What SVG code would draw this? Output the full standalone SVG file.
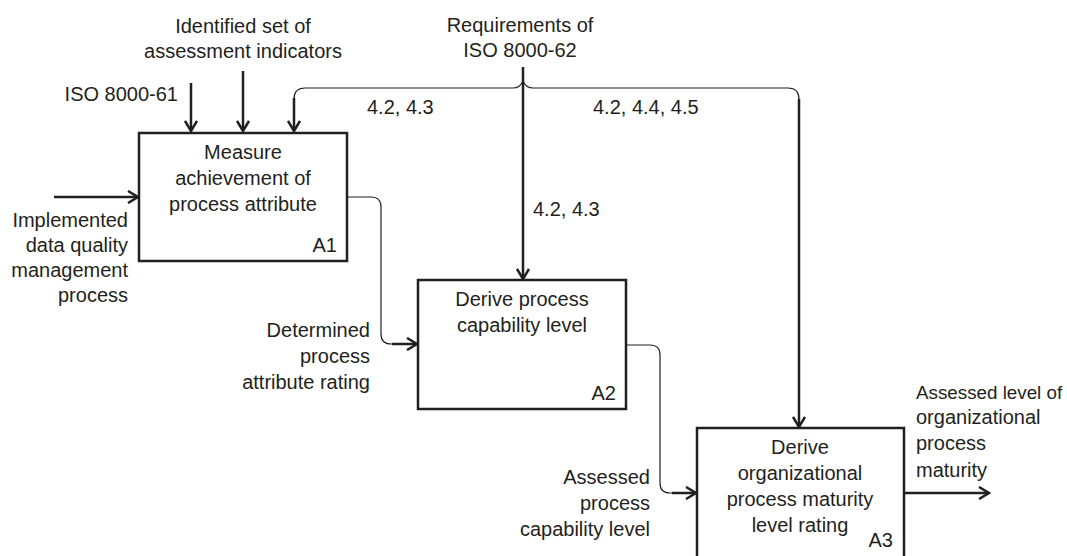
<svg xmlns="http://www.w3.org/2000/svg" width="1067" height="556" viewBox="0 0 1067 556">
<style>
text{font-family:"Liberation Sans",Arial,sans-serif;font-size:20px;fill:#231f20}
.c{text-anchor:middle}
.e{text-anchor:end}
.box{fill:#fff;stroke:#231f20;stroke-width:2.5}
.thick{fill:none;stroke:#231f20;stroke-width:2.5}
.thin{fill:none;stroke:#231f20;stroke-width:1.2}
</style>
<defs>
<marker id="ah" markerUnits="userSpaceOnUse" viewBox="0 0 14 14" refX="12" refY="7" markerWidth="14" markerHeight="14" orient="auto">
<polyline points="2,1 12,7 2,13" fill="none" stroke="#231f20" stroke-width="2.5"/>
</marker>
</defs>
<rect width="1067" height="556" fill="#fff"/>
<g id="connectors">
<line class="thick" x1="191" y1="83" x2="191" y2="131" marker-end="url(#ah)"/>
<line class="thick" x1="243" y1="71" x2="243" y2="131" marker-end="url(#ah)"/>
<line class="thick" x1="523" y1="67" x2="523" y2="279" marker-end="url(#ah)"/>
<path class="thin" d="M513 88 H305 Q294 88 294 99"/>
<path class="thin" d="M513 88 Q520 88 523 81 Q526 88 533 88 H788 Q799 88 799 99"/>
<line class="thick" x1="294" y1="98" x2="294" y2="131" marker-end="url(#ah)"/>
<line class="thick" x1="799" y1="99" x2="799" y2="427" marker-end="url(#ah)"/>
<line class="thick" x1="54" y1="197" x2="138" y2="197" marker-end="url(#ah)"/>
<path class="thin" d="M347 197 H371 Q381 197 381 207 V334 Q381 344 391 344 H395"/>
<line class="thick" x1="392" y1="344" x2="417" y2="344" marker-end="url(#ah)"/>
<path class="thin" d="M626 345 H650 Q660 345 660 355 V483 Q660 493 670 493 H675"/>
<line class="thick" x1="672" y1="493" x2="696" y2="493" marker-end="url(#ah)"/>
<line class="thick" x1="904" y1="493" x2="989" y2="493" marker-end="url(#ah)"/>
</g>
<g id="labels">
<text class="c" x="243" y="33">Identified set of</text>
<text class="c" x="243" y="58">assessment indicators</text>
<text class="e" x="178" y="101">ISO 8000-61</text>
<text class="c" x="520" y="32">Requirements of</text>
<text class="c" x="520" y="57">ISO 8000-62</text>
<text x="367" y="114">4.2, 4.3</text>
<text x="593" y="114">4.2, 4.4, 4.5</text>
<text x="533" y="216">4.2, 4.3</text>
<text class="e" x="128" y="227">Implemented</text>
<text class="e" x="128" y="252">data quality</text>
<text class="e" x="128" y="277">management</text>
<text class="e" x="128" y="302">process</text>
<text class="e" x="370" y="337">Determined</text>
<text class="e" x="370" y="363">process</text>
<text class="e" x="370" y="389">attribute rating</text>
<text class="e" x="650" y="484">Assessed</text>
<text class="e" x="650" y="510">process</text>
<text class="e" x="650" y="536">capability level</text>
<text x="916" y="399" style="font-size:18.8px">Assessed level of</text>
<text x="916" y="424">organizational</text>
<text x="916" y="450">process</text>
<text x="916" y="477">maturity</text>
</g>
<g id="A1">
<rect class="box" x="139" y="133" width="208" height="128"/>
<text class="c" x="243" y="159">Measure</text>
<text class="c" x="243" y="185">achievement of</text>
<text class="c" x="243" y="211">process attribute</text>
<text class="e" x="337" y="252">A1</text>
</g>
<g id="A2">
<rect class="box" x="418" y="280" width="208" height="129"/>
<text class="c" x="522" y="306">Derive process</text>
<text class="c" x="522" y="332">capability level</text>
<text class="e" x="616" y="400">A2</text>
</g>
<g id="A3">
<rect class="box" x="697" y="428" width="207" height="140"/>
<text class="c" x="800" y="454">Derive</text>
<text class="c" x="800" y="480">organizational</text>
<text class="c" x="800" y="506">process maturity</text>
<text class="c" x="800" y="532">level rating</text>
<text class="e" x="893" y="547">A3</text>
</g>
</svg>
